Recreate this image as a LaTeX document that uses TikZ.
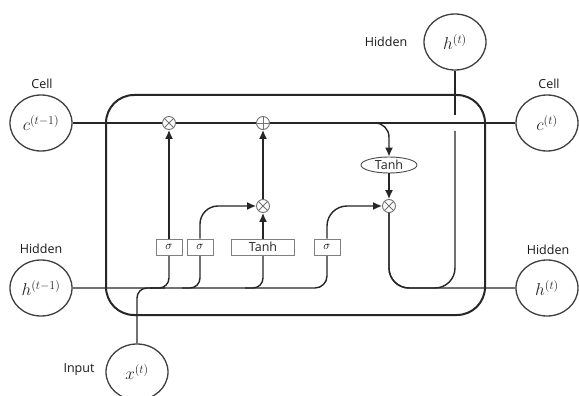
\documentclass[tikz,border=0pt]{standalone}
\usepackage{fontspec}
\setsansfont{Open Sans}
\usetikzlibrary{shapes.geometric,arrows.meta}
\begin{document}
\begin{tikzpicture}[x=1pt,y=-1pt,
  state/.style={ellipse, draw=black!75, line width=1.3pt, minimum width=62, minimum height=56, inner sep=0pt, fill=white, font=\fontsize{17}{20}\selectfont, text=black!85},
  lab/.style={font=\sffamily\fontsize{12.5}{14}\selectfont, text=black!90},
  op/.style={circle, draw=black!55, line width=0.9pt, minimum size=13, inner sep=0pt, fill=white},
  mul/.style={op, path picture={\draw[black!55, line width=0.8pt] (path picture bounding box.north west) -- (path picture bounding box.south east) (path picture bounding box.north east) -- (path picture bounding box.south west);}},
  add/.style={op, path picture={\draw[black!55, line width=0.8pt] (path picture bounding box.north) -- (path picture bounding box.south) (path picture bounding box.west) -- (path picture bounding box.east);}},
  gate/.style={rectangle, draw=black!50, line width=0.9pt, fill=white, minimum height=16, inner sep=1pt, font=\fontsize{13}{15}\selectfont},
  wire/.style={draw=black!85, line width=1.4pt},
  arr/.style={wire, -{Latex[length=9pt,width=8pt]}}
]
\clip (0,0) rectangle (579,396);
\fill[white] (0,0) rectangle (579,396);

% outer cell box
\node[draw=black!85, line width=2pt, rounded corners=28, minimum width=379, minimum height=220, inner sep=0pt] (box) at (295.5,205) {};

% state nodes
\node[state] (cprev) at (41,123) {$c^{(t-1)}$};
\node[state] (hprev) at (41,288) {$h^{(t-1)}$};
\node[state] (xin) at (137,372) {$x^{(t)}$};
\node[state] (cnext) at (547,123) {$c^{(t)}$};
\node[state] (hnext) at (547,288) {$h^{(t)}$};
\node[state] (htop) at (455,42) {$h^{(t)}$};

% labels
\node[lab] (lcprev) at (42,84) {Cell};
\node[lab] (lhprev) at (41,249) {Hidden};
\node[lab] (lxin) at (79,370) {Input};
\node[lab] (lcnext) at (549,84) {Cell};
\node[lab] (lhnext) at (548,250) {Hidden};
\node[lab] (lhtop) at (386,42) {Hidden};

% coordinates for free ends
\coordinate (b0) at (165,288);
\coordinate (b1) at (150,288);
\coordinate (b2) at (182,288);
\coordinate (b3) at (245,288);
\coordinate (cb) at (355,123);
\coordinate (ub) at (455,288);
\coordinate (gb) at (455,131);
\coordinate (gt) at (455,115);

% wires
\draw[wire] (cprev.east) -- (cnext.west);
\draw[wire, rounded corners=12] (hprev.east) -| (327,247);
\draw[wire, rounded corners=10] (xin.north) |- (b0);
\draw[wire, rounded corners=10] (b1) -| (169,247);
\draw[wire, rounded corners=10] (b2) -| (200,247);
\draw[wire, rounded corners=10] (b3) -| (263,247);

% operations and gates
\node[mul] (m1) at (169,123) {};
\node[add] (p1) at (263,123) {};
\node[mul] (m2) at (263,206) {};
\node[mul] (m3) at (389,206) {};
\node[ellipse, draw=black!70, line width=0.9pt, fill=white, minimum width=56, minimum height=16, inner sep=0pt, font=\sffamily\fontsize{12.5}{14}\selectfont, text=black!85] (tanhE) at (389,165) {Tanh};

\node[gate, minimum width=26] (s1) at (169,247) {$\sigma$};
\node[gate, minimum width=26] (s2) at (200,247) {$\sigma$};
\node[gate, minimum width=63, font=\sffamily\fontsize{12.5}{14}\selectfont, text=black!85] (tb) at (263,247) {Tanh};
\node[gate, minimum width=26] (s3) at (327,247) {$\sigma$};

% arrows
\draw[arr] (s1.north) -- (m1.south);
\draw[arr, rounded corners=18] (s2.north) |- (m2.west);
\draw[arr] (tb.north) -- (m2.south);
\draw[arr] (m2.north) -- (p1.south);
\draw[arr, rounded corners=20] (s3.north) |- (m3.west);
\draw[arr, rounded corners=14] (cb) -| (tanhE.north);
\draw[arr] (tanhE.south) -- (m3.north);

% output
\draw[wire, rounded corners=20] (m3.south) |- (hnext.west);
\draw[wire, rounded corners=20] (m3.south) |- (ub) -- (gb);
\draw[wire] (gt) -- (htop.south);
\end{tikzpicture}
\end{document}
